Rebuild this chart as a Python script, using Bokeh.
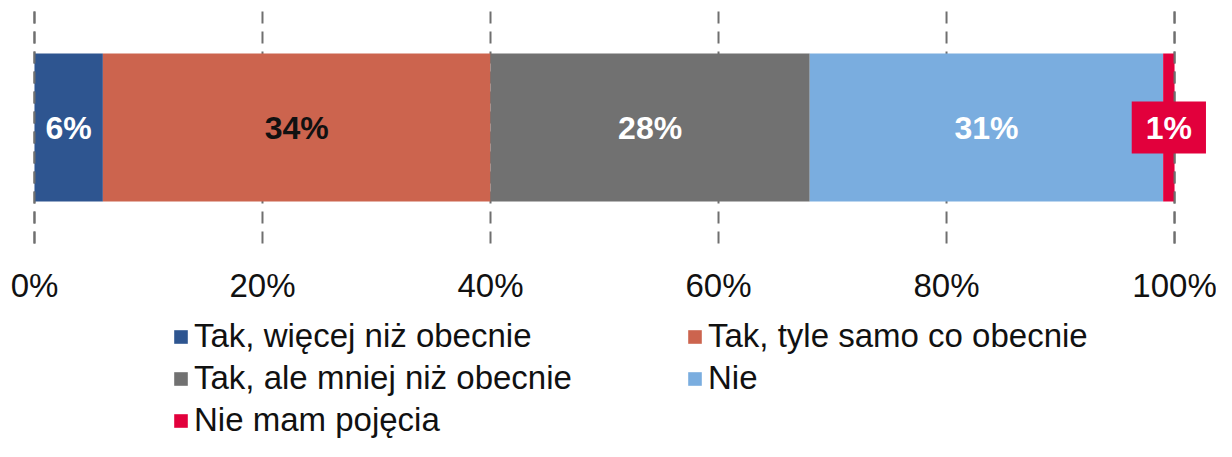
import numpy as np
from bokeh.plotting import figure
from bokeh.models import (ColumnDataSource, Range1d, Legend, LegendItem, LabelSet, Label)
from bokeh.core.properties import value
from bokeh.embed import file_html
from bokeh.resources import INLINE

categories = ["Tak, więcej niż obecnie", "Tak, tyle samo co obecnie",
              "Tak, ale mniej niż obecnie", "Nie", "Nie mam pojęcia"]
values = [6, 34, 28, 31, 1]
colors = ["#2E5590", "#CC644E", "#717171", "#7AADDF", "#E2003C"]
label_colors = ["white", "#111111", "white", "white", "white"]
tick_values = [0, 20, 40, 60, 80, 100]
tick_labels = ["0%", "20%", "40%", "60%", "80%", "100%"]

FONT = "Liberation Sans"
W, H = 1216, 441
BAR_Y = 127

keys = [f"s{i}" for i in range(len(values))]
src = ColumnDataSource({"y": [BAR_Y], **{k: [v] for k, v in zip(keys, values)}})

# y range in screen-like units (top = 0) so the layout below the bar can live in the frame
p = figure(width=W, height=H, x_range=Range1d(-2.98, 103.68), y_range=Range1d(H, 0),
           output_backend="svg", toolbar_location=None,
           x_axis_location=None, y_axis_location=None,
           min_border_left=0, min_border_right=0, min_border_top=0, min_border_bottom=0)
p.outline_line_color = None
p.background_fill_color = "white"
p.border_fill_color = "white"
p.grid.visible = False

# dashed vertical gridlines (behind bars)
grid_src = ColumnDataSource(dict(x=tick_values, y0=[11] * len(tick_values), y1=[247] * len(tick_values)))
p.segment(x0="x", y0="y0", x1="x", y1="y1", source=grid_src, line_color="#6f6f6f",
          line_dash="12 8", line_width=2)

renderers = p.hbar_stack(keys, y="y", height=148, color=colors, source=src, line_color=None)

# outer gridlines (0% and 100%) drawn over the bar
edge_src = ColumnDataSource(dict(x=[tick_values[0], tick_values[-1]], y0=[11, 11], y1=[247, 247]))
p.segment(x0="x", y0="y0", x1="x", y1="y1", source=edge_src, line_color="#6f6f6f",
          line_dash="12 8", line_width=2)

# tick labels
tick_src = ColumnDataSource(dict(x=tick_values, y=[285] * len(tick_values), text=tick_labels))
p.text(x="x", y="y", text="text", source=tick_src, text_align="center", text_baseline="middle",
       text_font=value(FONT), text_font_size="33px", text_color="#111111")

# value labels
vals = np.array(values, dtype=float)
mids = np.cumsum(vals) - vals / 2
texts = [f"{v}%" for v in values]
n = len(values)
lab_src = ColumnDataSource(dict(x=list(mids[:n - 1]), y=[BAR_Y] * (n - 1),
                                text=texts[:n - 1], color=label_colors[:n - 1]))
p.add_layout(LabelSet(x="x", y="y", text="text", source=lab_src, text_color="color",
                      text_align="center", text_baseline="middle",
                      text_font=value(FONT), text_font_style="bold", text_font_size="32px"))
p.add_layout(Label(x=mids[-1], y=BAR_Y, text=texts[-1], text_color=label_colors[-1],
                   text_align="center", text_baseline="middle",
                   text_font=FONT, text_font_style="bold", text_font_size="32px",
                   background_fill_color=colors[-1], padding=(14, 8)))

# legends (two columns)
def make_legend(idx, x, y):
    items = [LegendItem(label=categories[i], renderers=[renderers[i]]) for i in idx]
    lg = Legend(items=items, location=(x, y), orientation="vertical",
                background_fill_alpha=0, border_line_color=None, padding=0, margin=0,
                spacing=4, glyph_width=17, glyph_height=17, label_standoff=5,
                label_height=38, label_text_font=FONT, label_text_font_size="33px",
                label_text_color="#111111", label_text_baseline="middle")
    p.add_layout(lg, "center")

make_legend([0, 2, 4], 172, 2)
make_legend([1, 3], 686, 44)

open("out.html", "w").write(file_html(p, INLINE))
